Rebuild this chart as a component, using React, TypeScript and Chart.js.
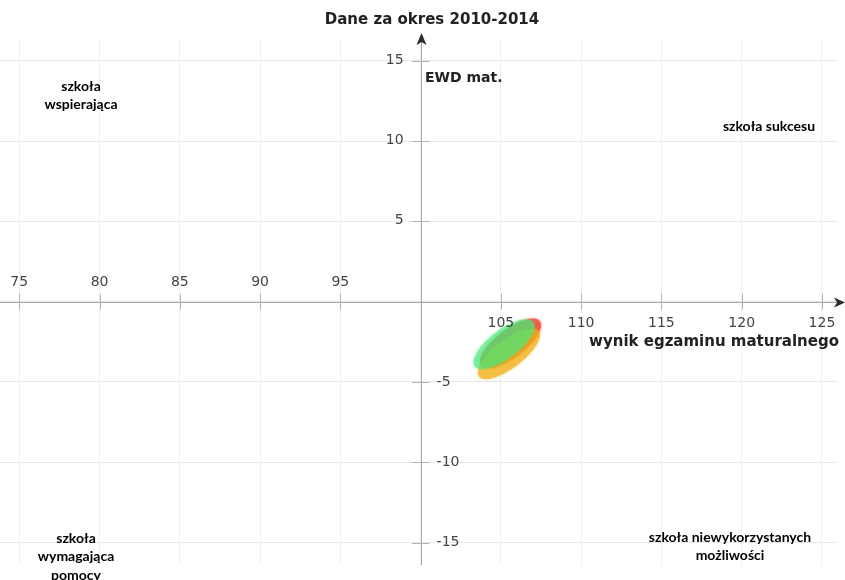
import React, { useEffect, useRef } from "react";
import { Chart, registerables } from "chart.js";

Chart.register(...registerables);

// ---- data ----
const xTicks = [75, 80, 85, 90, 95, 100, 105, 110, 115, 120, 125];
const yTicks = [-15, -10, -5, 0, 5, 10, 15];
const xTickLabels = ["75", "80", "85", "90", "95", "", "105", "110", "115", "120", "125"];
const yTickLabels = ["-15", "-10", "-5", "", "5", "10", "15"];

const ellipseNames = ["czerwona", "pomarańczowa", "zielona"];
const ellipseCenterX = [105.6, 105.5, 105.2];
const ellipseCenterY = [-2.6, -3.25, -2.65];
const ellipseRadiusMajor = [2.3, 2.35, 2.3];
const ellipseRadiusMinor = [0.88, 0.88, 0.9];

const titleText = "Dane za okres 2010-2014";
const yAxisTitle = "EWD mat.";
const xAxisTitle = "wynik egzaminu maturalnego";
const quadrantTopLeft = ["szkoła", "wspierająca"];
const quadrantTopRight = ["szkoła sukcesu"];
const quadrantBottomLeft = ["szkoła", "wymagająca", "pomocy"];
const quadrantBottomRight = ["szkoła niewykorzystanych", "możliwości"];

const X_MIN = 73.8;
const X_MAX = 126.0;
const Y_MIN = -16.4;
const Y_MAX = 16.3;
const X_CROSS = 100;
const Y_CROSS = 0;

const ellipseColors = [
  "rgba(240, 70, 50, 0.75)",
  "rgba(240, 175, 20, 0.65)",
  "rgba(70, 235, 120, 0.6)",
];
const ellipseAngle = (-37 * Math.PI) / 180;

const overlayPlugin = {
  id: "ewdOverlay",
  afterDatasetsDraw(chart: any) {
    const ctx = chart.ctx as CanvasRenderingContext2D;
    const xs = chart.scales.x;
    const ys = chart.scales.y;
    const area = chart.chartArea;
    const ox = xs.getPixelForValue(X_CROSS);
    const oy = ys.getPixelForValue(Y_CROSS);
    const pxPerX = Math.abs(xs.getPixelForValue(1) - xs.getPixelForValue(0));

    ctx.save();
    // axes
    ctx.strokeStyle = "#a8a8a8";
    ctx.lineWidth = 1;
    ctx.beginPath();
    ctx.moveTo(0, Math.round(oy) + 0.5);
    ctx.lineTo(836, Math.round(oy) + 0.5);
    ctx.moveTo(Math.round(ox) + 0.5, area.bottom);
    ctx.lineTo(Math.round(ox) + 0.5, 40);
    ctx.stroke();

    // tick marks
    ctx.strokeStyle = "#b4b4b4";
    ctx.beginPath();
    xTicks.forEach((v) => {
      if (v === X_CROSS) return;
      const px = Math.round(xs.getPixelForValue(v)) + 0.5;
      ctx.moveTo(px, oy - 8);
      ctx.lineTo(px, oy + 8);
    });
    yTicks.forEach((v) => {
      if (v === Y_CROSS) return;
      const py = Math.round(ys.getPixelForValue(v)) + 0.5;
      ctx.moveTo(ox - 9, py);
      ctx.lineTo(ox + 9, py);
    });
    ctx.stroke();

    // arrowheads
    ctx.fillStyle = "#2a2a2a";
    const ay = Math.round(oy) + 0.5;
    ctx.beginPath();
    ctx.moveTo(845, ay);
    ctx.lineTo(834, ay - 5);
    ctx.lineTo(837, ay);
    ctx.lineTo(834, ay + 5);
    ctx.closePath();
    ctx.fill();
    const ax = Math.round(ox) + 0.5;
    ctx.beginPath();
    ctx.moveTo(ax, 33);
    ctx.lineTo(ax - 5, 45);
    ctx.lineTo(ax, 42);
    ctx.lineTo(ax + 5, 45);
    ctx.closePath();
    ctx.fill();

    // ellipses
    for (let i = 0; i < ellipseNames.length; i++) {
      const cx = xs.getPixelForValue(ellipseCenterX[i]);
      const cy = ys.getPixelForValue(ellipseCenterY[i]);
      ctx.beginPath();
      ctx.ellipse(cx, cy, ellipseRadiusMajor[i] * pxPerX, ellipseRadiusMinor[i] * pxPerX, ellipseAngle, 0, Math.PI * 2);
      ctx.fillStyle = ellipseColors[i];
      ctx.shadowColor = ellipseColors[i];
      ctx.shadowBlur = 3;
      ctx.fill();
    }
    ctx.shadowBlur = 0;

    // tick labels
    ctx.fillStyle = "#444";
    ctx.font = "14px 'DejaVu Sans'";
    ctx.textBaseline = "middle";
    ctx.textAlign = "center";
    xTicks.forEach((v, i) => {
      const lbl = xTickLabels[i];
      if (!lbl) return;
      const px = xs.getPixelForValue(v);
      ctx.fillText(lbl, px, v < X_CROSS ? oy - 19 : oy + 22);
    });
    yTicks.forEach((v, i) => {
      const lbl = yTickLabels[i];
      if (!lbl) return;
      const py = ys.getPixelForValue(v);
      if (v > Y_CROSS) {
        ctx.textAlign = "right";
        ctx.fillText(lbl, ox - 17, py - 1);
      } else {
        ctx.textAlign = "left";
        ctx.fillText(lbl, ox + 16, py);
      }
    });

    // titles
    ctx.fillStyle = "#222";
    ctx.font = "bold 15px 'DejaVu Sans'";
    ctx.textAlign = "center";
    ctx.fillText(titleText, 432, 20);
    ctx.textAlign = "right";
    ctx.fillText(xAxisTitle, 839, 342);
    ctx.font = "bold 14px 'DejaVu Sans'";
    ctx.textAlign = "left";
    ctx.fillText(yAxisTitle, 425, 78);

    // quadrant labels
    ctx.fillStyle = "#000";
    ctx.font = "bold 14px Lato";
    ctx.textAlign = "center";
    const drawLines = (lines: string[], x: number, y: number) => {
      lines.forEach((l, i) => ctx.fillText(l, x, y + i * 18.5));
    };
    drawLines(quadrantTopLeft, 81, 86);
    drawLines(quadrantTopRight, 769, 126);
    drawLines(quadrantBottomLeft, 76, 538);
    drawLines(quadrantBottomRight, 730, 537);

    ctx.restore();
  },
};

export default function App() {
  const canvasRef = useRef<HTMLCanvasElement | null>(null);

  useEffect(() => {
    if (!canvasRef.current) return;
    const chart = new Chart(canvasRef.current, {
      type: "scatter",
      data: {
        datasets: [
          {
            label: "EWD",
            data: ellipseCenterX.map((x, i) => ({ x, y: ellipseCenterY[i] })),
            pointRadius: 0,
            pointHoverRadius: 0,
          },
        ],
      },
      options: {
        responsive: false,
        animation: false,
        events: [],
        layout: { padding: { left: 0, right: 7, top: 40, bottom: 15 } },
        plugins: { legend: { display: false }, tooltip: { enabled: false }, title: { display: false } },
        scales: {
          x: {
            type: "linear",
            min: X_MIN,
            max: X_MAX,
            afterBuildTicks: (scale: any) => {
              scale.ticks = xTicks.map((value) => ({ value }));
            },
            grid: { color: "#f1f1f1", drawTicks: false },
            border: { display: false },
            ticks: { display: false, padding: 0 },
          },
          y: {
            type: "linear",
            min: Y_MIN,
            max: Y_MAX,
            afterBuildTicks: (scale: any) => {
              scale.ticks = yTicks.map((value) => ({ value }));
            },
            grid: { color: "#e9e9e9", drawTicks: false },
            border: { display: false },
            ticks: { display: false, padding: 0 },
          },
        },
      },
      plugins: [overlayPlugin],
    });
    return () => chart.destroy();
  }, []);

  return (
    <div style={{ position: "absolute", left: 0, top: 0, width: 845, height: 580, background: "#fff" }}>
      <canvas ref={canvasRef} width={845} height={580} style={{ display: "block" }} />
    </div>
  );
}
